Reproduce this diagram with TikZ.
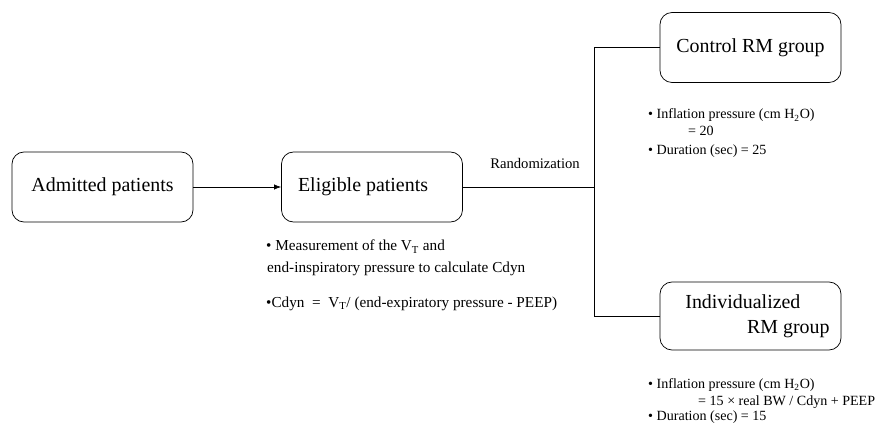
\documentclass[tikz,border=0pt]{standalone}
\usepackage{fontspec}
\setmainfont{Liberation Serif}
\usetikzlibrary{arrows.meta}

\begin{document}
\begin{tikzpicture}[x=0.03cm, y=-0.03cm,
  stage/.style={draw, rounded corners=0.36cm, line width=0.6pt, minimum width=5.43cm, minimum height=2.1cm, font=\fontsize{17}{21}\selectfont},
  note/.style={anchor=base west, inner sep=0pt, font=\fontsize{12}{14}\selectfont},
  bignote/.style={note, font=\fontsize{13}{15}\selectfont},
  link/.style={line width=0.6pt}]

\useasboundingbox (0,0) rectangle (882,424);

%Boxes
\node[stage] (admit) at (102.5,187) {Admitted patients};
\node[stage] (elig) at (372,187) {Eligible patients\hspace*{0.9em}};
\node[stage] (ctrl) at (750.5,47.5) {Control RM group};
\node[stage, minimum height=2.04cm, align=left] (indiv) at (750.5,316) {\hspace*{0.7em}Individualized\\\hspace*{3.8em}RM group};

%Connectors
\coordinate (split) at (594,187);
\draw[link, -{Latex[length=6pt, width=4.5pt]}] (admit) -- (elig);
\draw[link] (elig) -- (split);
\draw[link] (split) |- (ctrl);
\draw[link] (split) |- (indiv);
\node[note, anchor=base, font=\fontsize{12.5}{14}\selectfont] (rand) at (535,169) {Randomization};

% Eligible notes
\node[bignote] (elig1) at (266,251) {\textbullet\ Measurement of the V\textsubscript{T} and};
\node[bignote] (elig2) at (267,272) {end-inspiratory pressure to calculate Cdyn};
\node[bignote] (elig3) at (266,307) {\textbullet Cdyn\ \ =\ \ V\textsubscript{T}/ (end-expiratory pressure - PEEP)};

% Control notes
\node[note] (ctrl1) at (648,119) {\textbullet\ Inflation pressure (cm H\textsubscript{2}O)};
\node[note] (ctrl2) at (688,136) {= 20};
\node[note] (ctrl3) at (648,154) {\textbullet\ Duration (sec) = 25};

% Individualized notes
\node[note] (indiv1) at (648,388) {\textbullet\ Inflation pressure (cm H\textsubscript{2}O)};
\node[note] (indiv2) at (698,405) {= 15 × real BW / Cdyn + PEEP};
\node[note] (indiv3) at (648,420) {\textbullet\ Duration (sec) = 15};

\end{tikzpicture}
\end{document}
